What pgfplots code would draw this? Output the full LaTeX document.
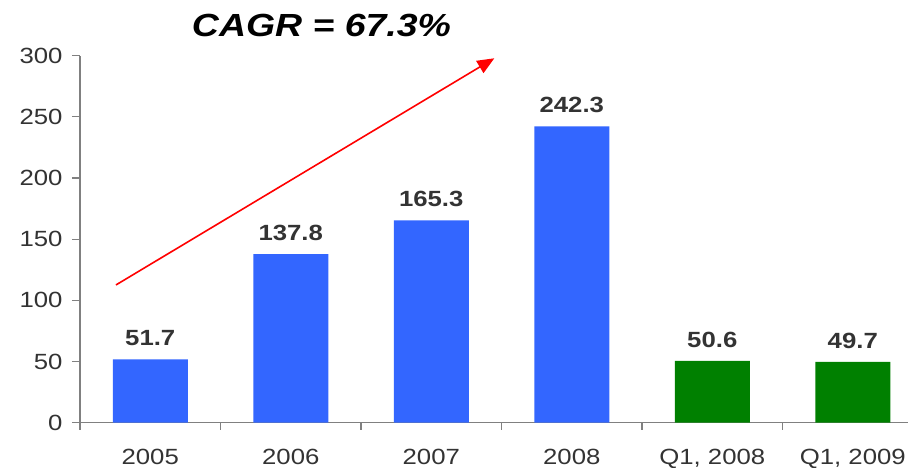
\documentclass[border=0pt]{standalone}
\usepackage{pgfplots}
\pgfplotsset{compat=1.18}
\usetikzlibrary{arrows.meta}
\usepackage{fontspec}
\setmainfont{Liberation Sans}[FakeStretch=1.17]
\definecolor{barblue}{HTML}{3366FF}
\definecolor{bargreen}{HTML}{008000}
\definecolor{axgray}{HTML}{808080}
\definecolor{txt}{HTML}{333333}
\begin{document}
\begin{tikzpicture}
\path[use as bounding box] (-80pt,-45.3pt) rectangle (828pt,422.7pt);
\begin{axis}[
  at={(0,0)}, anchor=south west,
  scale only axis, width=828pt, height=367pt,
  xmin=-0.5, xmax=5.393, ymin=0, ymax=300,
  axis lines=left,
  axis line style={draw=axgray, line width=1.2pt, -},
  ytick={0,50,...,300},
  tick align=outside,
  major tick length=8pt,
  tick style={draw=axgray, line width=1.2pt},
  xtick={0,1,2,3,4,5},
  xticklabels={2005,2006,2007,2008,{Q1, 2008},{Q1, 2009}},
  xtick style={draw=none},
  extra x ticks={-0.5,0.5,1.5,2.5,3.5,4.5},
  extra x tick labels={},
  extra x tick style={xtick style={draw=axgray, line width=1.2pt}, major tick length=7pt},
  /pgf/number format/assume math mode=true,
  ticklabel style={font=\fontsize{22}{22}\selectfont, text=txt},
  yticklabel style={xshift=-6pt},
  xticklabel style={yshift=-15pt},
  ybar, bar width=75pt,
  nodes near coords,
  nodes near coords style={font=\bfseries\fontsize{22}{22}\selectfont, text=txt, anchor=south, yshift=10pt},
  point meta=explicit symbolic,
  clip=false,
]
\addplot[fill=barblue, draw=none, bar shift=0pt] coordinates {(0,51.7)[51.7] (1,137.8)[137.8] (2,165.3)[165.3] (3,242.3)[242.3]};
\addplot[fill=bargreen, draw=none, bar shift=0pt] coordinates {(4,50.6)[50.6] (5,49.7)[49.7]};
\draw[red, line width=1.6pt, -{Triangle[length=17pt,width=14pt]}] (axis cs:-0.244,112.6) -- (axis cs:2.449,297.9);
\node[anchor=base, font=\bfseries\itshape\fontsize{32}{32}\selectfont, text=black, inner sep=0pt] at (axis cs:1.219,315.3) {CAGR = 67.3\%};
\end{axis}
\end{tikzpicture}
\end{document}
